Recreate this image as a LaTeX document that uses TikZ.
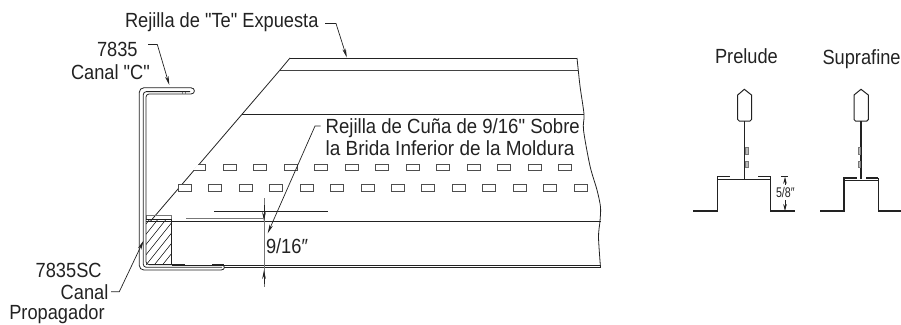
\documentclass[tikz,border=0pt]{standalone}
\usepackage{fontspec}
\newfontfamily\labfont[FakeStretch=0.89]{Liberation Sans}
\newfontfamily\cunafont[FakeStretch=0.905]{Liberation Sans}
\newfontfamily\bridafont[FakeStretch=0.925]{Liberation Sans}
\newfontfamily\smallfont[FakeStretch=0.76]{Liberation Sans}
\usetikzlibrary{arrows.meta}
\definecolor{ink}{HTML}{222222}
\definecolor{soft}{HTML}{777777}
\tikzset{
  lbl/.style={inner sep=0pt,outer sep=0pt,text=ink,font=\labfont\fontsize{20.5}{22}\selectfont,anchor=base west},
  small/.style={inner sep=0pt,outer sep=0pt,text=ink,font=\smallfont\fontsize{14}{16}\selectfont,anchor=base west},
  ln/.style={draw=ink,line width=0.8pt},
  thick ln/.style={draw=ink,line width=1.5pt},
  pale/.style={draw=soft,line width=0.9pt},
  leader/.style={draw=ink,line width=0.7pt,-{Stealth[length=9pt,width=3.6pt]}},
  dimtip/.style={draw=ink,line width=0.7pt,-{Stealth[length=7pt,width=3.6pt]}},
  slot/.style={draw=ink!80,line width=0.9pt,fill=white},
  stitch/.style={draw=soft,line width=0.6pt,fill=soft!50},
}
\begin{document}
\begin{tikzpicture}[x=1pt,y=-1pt]
\useasboundingbox (0,0) rectangle (901,324);
% main panel
\draw[ln] (290,58) -- (577,58);
\draw[pale,draw=ink!85,line width=1pt] (280,70) -- (577.7,70);
\draw[ln] (242,114.3) -- (584,114.3);
\draw[ln] (290,58) -- (280,70) -- (242,114.3) -- (150,221.7);
\draw[ln] plot[smooth,tension=0.5] coordinates {(577,58) (580,86) (584,114.3) (583.5,130) (590,166) (597,190) (600.5,207) (600,221) (598.5,237) (600.5,267.5)};
\draw[ln,line width=1pt] (146,221) -- (600.5,221);
\draw[ln] (172,265.3) -- (600.5,265.3);
\draw[ln] (224,267.8) -- (600.5,267.8);
\draw[pale] (186,218.7) -- (263,218.7);
\draw[ln] (214,211.7) -- (328,211.7);
% slots
\foreach \i in {1,...,12} \draw[slot] (192.7+30.5*\i,164) rectangle +(13,6.3);
\draw[slot] (198.3,164) -- (205.7,164) -- (205.7,170.3) -- (193,170.3);
\foreach \i in {0,...,13} \draw[slot] (178.3+30.45*\i,184.5) rectangle +(13,6.6);
% hatched spacer
\begin{scope}
\clip (146,219.3) rectangle (171.7,264.5);
\foreach \k in {0,...,9} \draw[ln,line width=0.6pt] (150+8.2*\k,219) -- ++(-40,50);
\end{scope}
\draw[ln] (146,219.3) -- (171.7,219.3) -- (171.7,264.5);
\draw[pale] (146,215.7) -- (171.7,215.7) -- (171.7,219);
\draw[pale] (146,215.7) -- (146,219);
% C channel
\draw[ln,rounded corners=4.5pt] (191,87.8) -- (139.3,87.8) -- (139.3,270) -- (221,270);
\draw[ln,rounded corners=3pt] (190,91.6) -- (143.3,91.6) -- (143.3,267.3) -- (222,267.3);
\draw[ln,rounded corners=3pt] (191,94) -- (146,94) -- (146,264.6) -- (172,264.6);
\draw[ln] (191,87.8) .. controls (195.5,87.8) and (195.5,94) .. (191,94);
\draw[ln] (221,270) .. controls (225.5,270) and (225.5,264.8) .. (221,264.8) -- (212,264.8);
\draw[pale,line width=0.6pt] (182,91.6) -- (182,94) (185,91.6) -- (185,94);
\draw[ln,line width=1.4pt] (172,265) -- (185,265) (212,265) -- (224,265);
% vertical dimension
\coordinate (dimtop) at (264,198);
\coordinate (dimup) at (264,221);
\coordinate (dimlow) at (264,270);
\coordinate (dimbot) at (264,287);
\draw[pale,line width=0.7pt] (dimtop) -- (dimbot);
\draw[leader] (264,205) -- (dimup);
\draw[leader] (264,284) -- (dimlow);
% labels
\node[lbl] (expuesta) at (125,27.5) {Rejilla de "Te" Expuesta};
\node[lbl] (c1) at (97,56) {7835};
\node[lbl] (c2) at (71,79) {Canal "C"};
\node[lbl,font=\cunafont\fontsize{20.5}{22}\selectfont] (cuna1) at (325.7,133) {Rejilla de Cuña de 9/16" Sobre};
\node[lbl,font=\bridafont\fontsize{20.5}{22}\selectfont] (cuna2) at (325.7,155.5) {la Brida Inferior de la Moldura};
\node[lbl] (dim) at (266,253.3) {9/16″};
\node[lbl] (sc1) at (35.7,277) {7835SC};
\node[lbl] (sc2) at (60.7,299) {Canal};
\node[lbl] (sc3) at (9.3,319) {Propagador};
\node[lbl] (prelude) at (715,63.3) {Prelude};
\node[lbl] (suprafine) at (822.5,64) {Suprafine};
% leaders
\coordinate (j1) at (325,23.5); \coordinate (t1) at (346.8,57.5);
\draw[leader] (j1) -- (336,23.5) -- (t1);
\coordinate (j2) at (148,44.5); \coordinate (t2) at (169.3,85);
\draw[leader] (j2) -- (157.3,44.5) -- (t2);
\coordinate (j3) at (320.7,126); \coordinate (t3) at (267.7,233.3);
\draw[leader] (j3) -- (315,126) -- (t3);
\coordinate (j4) at (111,291.7); \coordinate (t4) at (143.5,240.7);
\draw[leader] (j4) -- (119.3,291.7) -- (t4);
% Prelude profile
\draw[ln,line width=1pt] (744.3,89.3) -- (751.5,95) -- (751.5,119.5) -- (750,121) -- (739.2,121) -- (737.7,119.5) -- (737.7,95) -- cycle;
\draw[thick ln] (744.3,121) -- (744.3,179);
\draw[stitch] (745.2,147.7) rectangle (748.6,154);
\draw[stitch] (745.2,161.7) rectangle (748.6,167.3);
\draw[thick ln,line width=1.4pt] (693.3,211) -- (717.3,211) -- (717.3,176.5);
\draw[thick ln,line width=1.4pt] (770.7,176.5) -- (770.7,211) -- (795,211);
\draw[thick ln,line width=1.4pt] (717.3,179.6) -- (770.7,179.6);
\draw[thick ln,line width=1.3pt] (717.3,176.8) -- (730,176.8) (758,176.8) -- (770.7,176.8);
\draw[ln,line width=0.7pt] (781,176.5) -- (788,176.5);
\node[small] (pre58) at (776,197.3) {5/8″};
\coordinate (d1) at (785,176.8); \coordinate (d2) at (785,211);
\draw[dimtip] (785,185) -- (d1);
\draw[dimtip] (785,200) -- (d2);
% Suprafine profile
\draw[ln,line width=1pt] (861,89.3) -- (868.3,95) -- (868.3,119.5) -- (866.8,121) -- (855.5,121) -- (854,119.5) -- (854,95) -- cycle;
\draw[ln,line width=1.2pt] (861,121) -- (861,179);
\draw[stitch] (858,147.7) rectangle (860.3,154);
\draw[stitch] (858,161.7) rectangle (860.3,167.3);
\draw[ln,line width=1.2pt] (820,211) -- (844,211) -- (844,178) -- (845,178);
\draw[ln,line width=1.2pt] (878.5,178) -- (878.5,211) -- (901,211);
\draw[thick ln,line width=2.4pt] (845,178) -- (857,178) (866,178) -- (878,178);
\draw[ln,line width=1pt] (845,180.5) -- (878,180.5);
\end{tikzpicture}
\end{document}
